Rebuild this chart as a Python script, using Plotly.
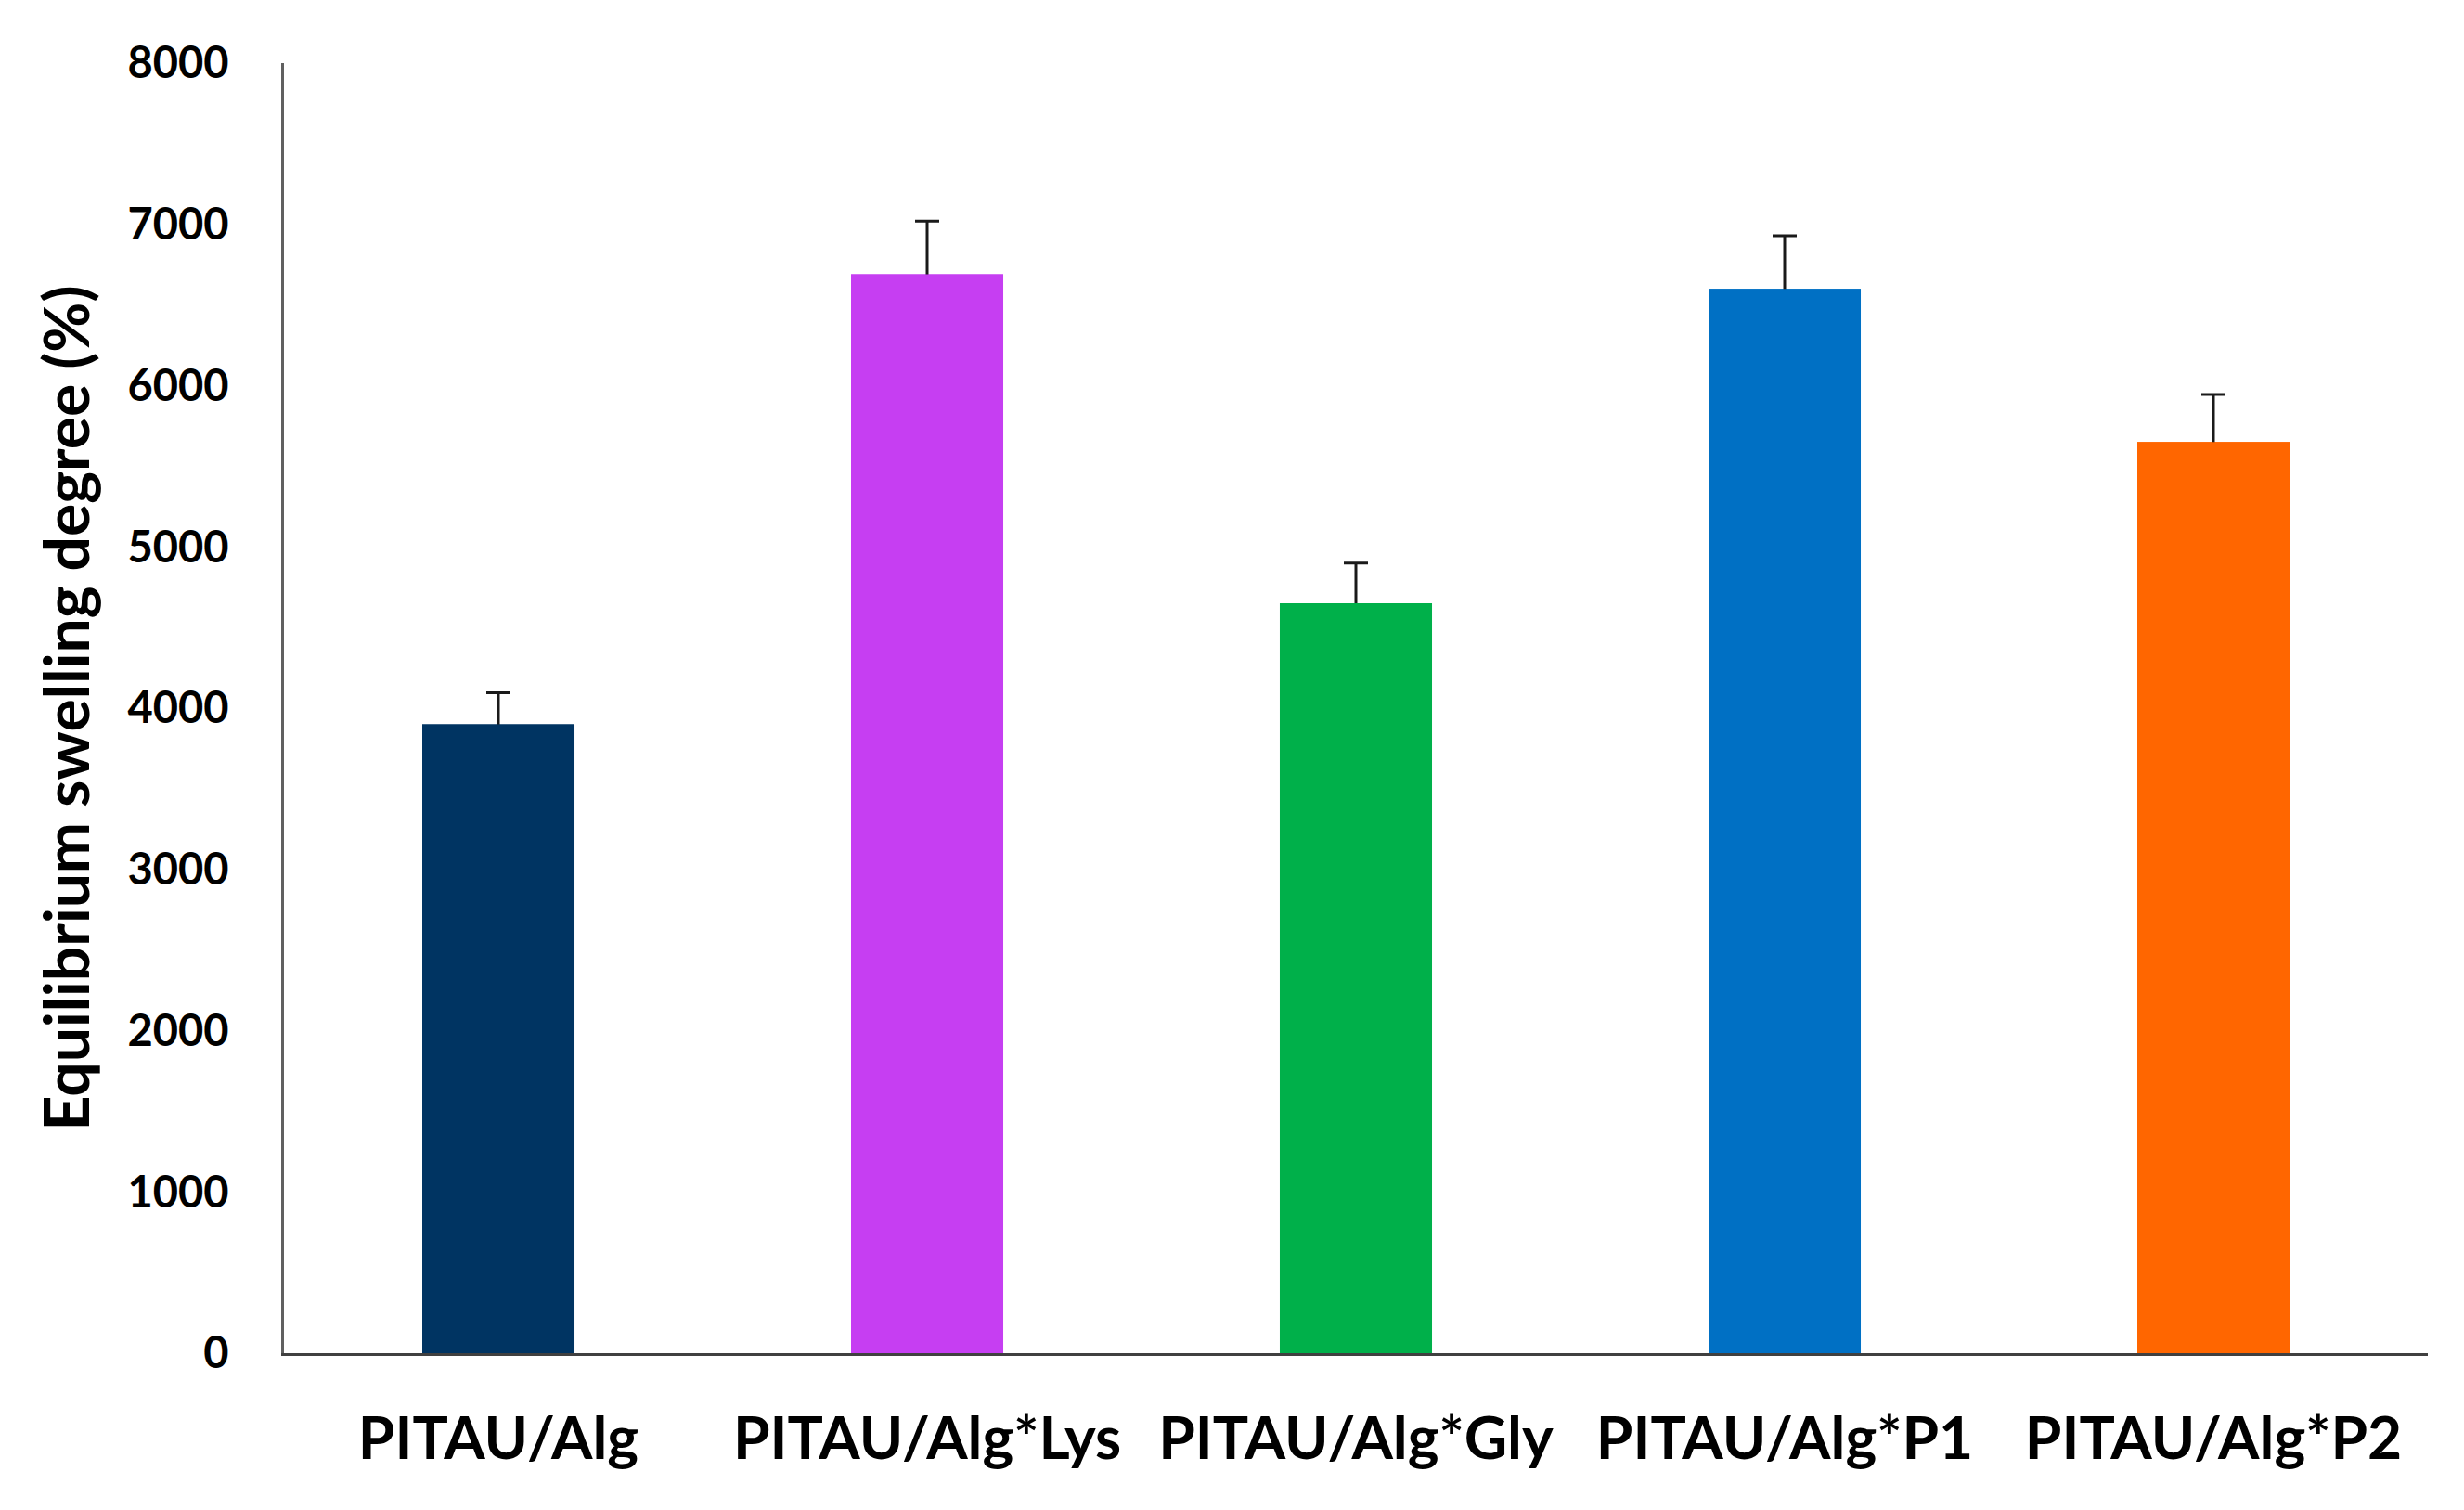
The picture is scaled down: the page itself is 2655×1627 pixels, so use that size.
import plotly.graph_objects as go

categories = ["PITAU/Alg", "PITAU/Alg*Lys", "PITAU/Alg*Gly", "PITAU/Alg*P1", "PITAU/Alg*P2"]
values = [3900, 6690, 4650, 6600, 5650]
errors = [195, 330, 250, 330, 295]
colors = ["#003462", "#C63EF2", "#00B04A", "#0070C4", "#FF6600"]
y_ticks = [0, 1000, 2000, 3000, 4000, 5000, 6000, 7000, 8000]

FONT = "Lato"

fig = go.Figure()
# error bars (symmetric; lower half is hidden beneath the bars drawn on top)
fig.add_trace(
    go.Bar(
        x=categories,
        y=values,
        marker=dict(color=colors, line=dict(width=0)),
        width=0.355,
        error_y=dict(
            type="data",
            array=errors,
            color="#1a1a1a",
            thickness=3,
            width=13,
        ),
        hoverinfo="skip",
    )
)
fig.add_trace(
    go.Bar(
        x=categories,
        y=values,
        marker=dict(color=colors, line=dict(width=0)),
        width=0.355,
    )
)

fig.update_layout(
    width=2655,
    height=1627,
    barmode="overlay",
    margin=dict(l=298, r=47, t=60, b=177, autoexpand=False),
    paper_bgcolor="white",
    plot_bgcolor="white",
    showlegend=False,
    font=dict(family=FONT, color="black"),
)

fig.update_xaxes(
    showline=True,
    linecolor="#404040",
    linewidth=3,
    ticks="outside",
    ticklen=34,
    tickcolor="rgba(0,0,0,0)",
    tickfont=dict(family=FONT, size=64, color="black", weight="bold"),
    showgrid=False,
    zeroline=False,
    automargin=False,
)

fig.update_yaxes(
    range=[0, 8000],
    tickvals=y_ticks,
    ticktext=[str(v) for v in y_ticks],
    showline=True,
    linecolor="#606060",
    linewidth=3,
    ticks="outside",
    ticklen=47,
    tickcolor="rgba(0,0,0,0)",
    tickfont=dict(family=FONT, size=47, color="black", weight="bold"),
    showgrid=False,
    zeroline=False,
    automargin=False,
    title=dict(
        text="Equilibrium swelling degree (%)",
        font=dict(family=FONT, size=66, color="black", weight="bold"),
        standoff=20,
    ),
)

fig.write_html("out.html")
